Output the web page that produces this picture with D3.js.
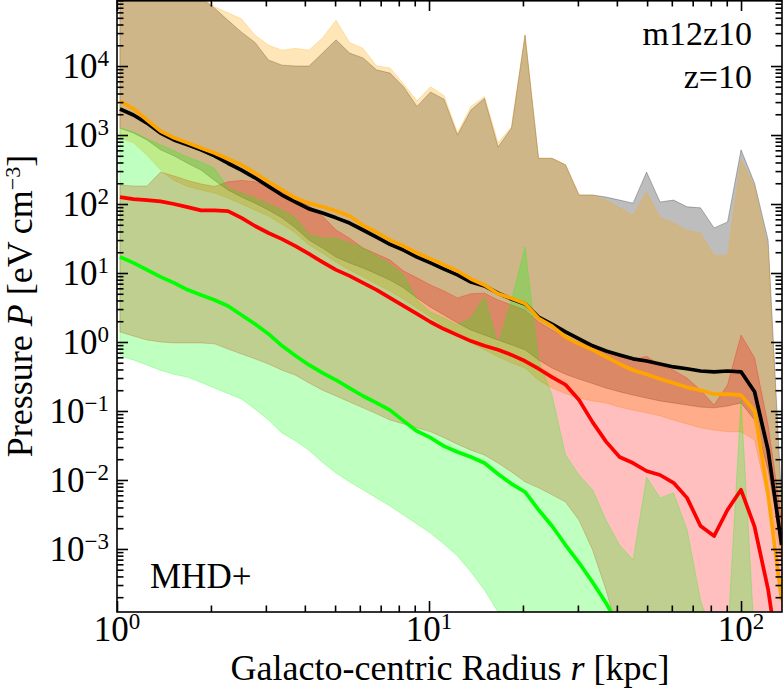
<!DOCTYPE html>
<html><head><meta charset="utf-8">
<script src="https://cdn.jsdelivr.net/npm/d3@7"></script>
<style>body{margin:0;background:#fff}svg{display:block}</style>
</head><body>
<svg id="c" width="784" height="694"></svg>
<script>
// Galacto-centric radius bins [kpc]
const radii = [1.022,1.129,1.248,1.379,1.523,1.683,1.859,2.054,2.269,2.506,2.769,3.059,3.380,3.734,4.125,4.557,5.035,5.563,6.145,6.789,7.499,8.285,9.153,10.11,11.17,12.34,13.63,15.06,16.64,18.38,20.31,22.44,24.79,27.39,30.26,33.43,36.93,40.80,45.08,49.80,55.02,60.78,67.14,74.18,81.95,90.53,100.0,110.5,122.1,134.9];

// median profiles [eV cm^-3]
const totalMedian = [2380,1950,1490,1070,850,720,610,500,390,310,240,180,135,107,85,74,63,53,42,33,26,21.5,17,14,11.4,9.4,7.4,6.5,5.1,4.2,3.56,2.3,1.82,1.40,1.11,0.88,0.74,0.65,0.57,0.53,0.48,0.435,0.41,0.38,0.37,0.38,0.37,0.19,0.027,0.00114];
const orangeMedian = [3100,2400,1650,1140,910,770,650,550,450,370,280,210,160,122,103,91,79,67,49,39,30,24.6,19.5,16,13.1,10.7,8.2,6.7,5.0,4.3,3.6,2.2,1.7,1.18,0.94,0.77,0.61,0.48,0.39,0.34,0.29,0.255,0.22,0.20,0.176,0.176,0.17,0.10,0.0061,0.00018];
const redMedian = [126,118,114,109,100,90,81,81,79,63,48,38,31,24.6,18.9,14.4,11.1,9.1,7.2,5.7,4.35,3.33,2.55,1.95,1.54,1.26,1.03,0.88,0.77,0.65,0.53,0.41,0.31,0.24,0.144,0.069,0.036,0.0215,0.0176,0.0135,0.0118,0.0091,0.0055,0.00215,0.00154,0.0037,0.0072,0.0021,0.00026,0.0000126];
const greenMedian = [17.1,14.0,11.1,8.8,7.2,5.7,4.8,4.06,3.33,2.46,1.82,1.31,0.88,0.63,0.465,0.356,0.281,0.215,0.165,0.131,0.103,0.072,0.051,0.041,0.031,0.0255,0.0215,0.0176,0.0122,0.0088,0.0067,0.0037,0.00215,0.00114,0.00063,0.00033,0.000165,0.000072,null,null,null,null,null,null,null,null,null,null,null,null];

// percentile bands (upper / lower)
const totalHi = [3.4e5,2.7e5,2.2e5,1.76e5,1.44e5,1.18e5,9.7e4,6.9e4,4.6e4,3.1e4,2.2e4,1.22e4,1.03e4,1.0e4,1.0e4,1.54e4,2.4e4,1.54e4,1.31e4,8800,7900,5000,2600,4200,3300,1000,2300,3400,670,1260,2.8e4,460,460,370,135,135,126,114,103,290,107,114,91,88,45,55,610,200,30,0.0051];
const totalLo = [1260,1070,850,610,500,390,310,220,160,126,103,82,63,45,30,23,17,14,11.8,9.7,7.9,6.1,4.35,3.2,2.46,1.89,1.49,1.26,1.07,0.91,0.77,0.55,0.42,0.34,0.29,0.25,0.215,0.19,0.17,0.154,0.14,0.131,0.122,0.114,0.111,0.118,0.131,0.074,0.014,0.00114];
const orangeHi = [5.7e5,4.5e5,3.4e5,2.7e5,2.15e5,1.5e5,1.03e5,7.2e4,5.9e4,4.8e4,2.8e4,2.0e4,1.7e4,1.8e4,1.7e4,2.55e4,4.6e4,2.2e4,1.8e4,1.0e4,9400,5500,3100,5000,3700,1070,2600,3600,770,1310,2.8e4,460,460,370,135,135,114,88,69,149,63,53,41,38,18,18,435,176,21.5,0.0026];
const orangeLo = [910,770,510,310,220,180,160,144,122,100,82,67,51,38,25.5,19.5,14.4,11.1,8.8,6.9,5.5,4.2,3.1,2.3,1.7,1.26,0.97,0.77,0.61,0.50,0.42,0.28,0.215,0.18,0.154,0.14,0.131,0.114,0.103,0.094,0.085,0.074,0.065,0.057,0.053,0.050,0.050,0.038,0.0051,0.00069];
const redHi = [189,182,182,290,255,220,195,180,210,220,210,180,149,118,94,67,42,32,23,18.9,15.4,10.7,8.5,6.7,5.5,4.35,5.0,5.1,4.06,3.44,2.9,1.95,1.49,1.18,1.0,0.85,0.72,0.62,0.55,0.62,0.465,0.39,0.30,0.20,0.122,0.24,1.26,0.59,0.063,0.0026];
const redLo = [1.40,1.22,1.07,1.0,0.97,0.97,0.97,0.94,0.79,0.67,0.57,0.48,0.39,0.33,0.255,0.20,0.165,0.135,0.111,0.091,0.074,0.065,0.057,0.050,0.041,0.033,0.027,0.023,0.0176,0.0131,0.0094,0.0077,0.0061,0.0048,0.0026,0.00097,0.000255,0.000048,2e-5,2e-5,2e-5,2e-5,2e-5,2e-5,2e-5,2e-5,2e-5,2e-5,2e-5,2e-5];
const greenHi = [1260,1110,880,720,590,480,406,330,170,144,122,100,82,63,36,32,32,27,23,17.6,13.5,9.4,4.06,2.72,2.23,1.76,2.23,4.5,0.91,4.06,23.8,0.55,0.17,0.023,0.0118,0.0072,0.0026,0.00114,0.00069,0.011,0.0055,0.0065,0.0019,0.00018,0.000048,0.000048,0.144,0.000048,0.0000065,0.0000065];
const greenLo = [0.63,0.55,0.465,0.39,0.34,0.31,0.26,0.215,0.18,0.149,0.107,0.074,0.048,0.037,0.027,0.018,0.0126,0.0094,0.0072,0.0055,0.0042,0.0031,0.0023,0.0017,0.00118,0.00079,0.000465,0.000255,0.000122,0.000048,4e-6,4e-6,4e-6,4e-6,4e-6,4e-6,4e-6,4e-6,4e-6,4e-6,4e-6,4e-6,4e-6,4e-6,4e-6,4e-6,4e-6,4e-6,4e-6,4e-6];

const xMajor = [1,10,100];
const yMajorExp = [-3,-2,-1,0,1,2,3,4];

const FONT = "'Liberation Serif', 'Times New Roman', serif";
const L = 117, R = 782, T = 0, B = 612;
const svg = d3.select('#c');
const x = d3.scaleLog().domain([1, 135.3]).range([L, R]);
const y = d3.scaleLog().domain([1.22e-4, 9.06e4]).range([B, T]);

svg.append('defs').append('clipPath').attr('id','pc')
  .append('rect').attr('x',L).attr('y',T).attr('width',R-L).attr('height',B-T);
const plot = svg.append('g').attr('clip-path','url(#pc)');

const bands = [
  {lo: totalLo, hi: totalHi, c: '#000000', a: 0.26},
  {lo: orangeLo, hi: orangeHi, c: '#ffa500', a: 0.28},
  {lo: redLo, hi: redHi, c: '#ff0000', a: 0.25},
  {lo: greenLo, hi: greenHi, c: '#00ff00', a: 0.25}
];
bands.forEach(b => {
  const ar = d3.area()
    .x((d,i) => x(radii[i]))
    .y0((d,i) => y(b.lo[i]))
    .y1((d,i) => y(b.hi[i]));
  plot.append('path').datum(radii).attr('d', ar)
    .attr('fill', b.c).attr('fill-opacity', b.a)
    .attr('stroke', b.c).attr('stroke-opacity', b.a).attr('stroke-width', 1);
});

const lines = [
  {v: totalMedian, c: '#000000'},
  {v: orangeMedian, c: '#ffa500'},
  {v: redMedian, c: '#ff0000'},
  {v: greenMedian, c: '#00ff00'}
];
lines.forEach(l => {
  const ln = d3.line()
    .defined((d,i) => l.v[i] != null)
    .x((d,i) => x(radii[i]))
    .y((d,i) => y(l.v[i]));
  plot.append('path').datum(radii).attr('d', ln)
    .attr('fill','none').attr('stroke', l.c).attr('stroke-width', 3.7)
    .attr('stroke-linejoin','round');
});

// axes (inward ticks on all four sides)
const xMinor = [];
[1,10].forEach(d => { for (let m=2;m<=9;m++) if (m*d < 135.3) xMinor.push(m*d); });
const yMinor = [];
for (let k=-4;k<=4;k++) for (let m=2;m<=9;m++) { const v=m*Math.pow(10,k); if (v>1.22e-4 && v<9.06e4) yMinor.push(v); }
const yMajor = yMajorExp.map(k => Math.pow(10,k));

function ax(gen, tr, vals, size) {
  const g = svg.append('g').attr('transform', tr)
    .call(gen.tickValues(vals).tickSize(-size).tickSizeOuter(0).tickFormat(''));
  g.select('.domain').remove();
  g.selectAll('line').attr('stroke','#000').attr('stroke-width',1.6);
}
ax(d3.axisBottom(x), `translate(0,${B})`, xMajor, 11);
ax(d3.axisBottom(x), `translate(0,${B})`, xMinor, 6.5);
ax(d3.axisTop(x), `translate(0,${T})`, xMajor, 11);
ax(d3.axisTop(x), `translate(0,${T})`, xMinor, 6.5);
ax(d3.axisLeft(y), `translate(${L},0)`, yMajor, 11);
ax(d3.axisLeft(y), `translate(${L},0)`, yMinor, 6.5);
ax(d3.axisRight(y), `translate(${R},0)`, yMajor, 11);
ax(d3.axisRight(y), `translate(${R},0)`, yMinor, 6.5);

svg.append('rect').attr('x',L).attr('y',T+0.8).attr('width',R-L).attr('height',B-T-0.8)
  .attr('fill','none').attr('stroke','#000').attr('stroke-width',1.6);

// tick labels
function pow10(t, k) {
  t.append('tspan').text('10');
  t.append('tspan').attr('dy',-12).attr('font-size',23).text(k<0 ? '\u2212'+(-k) : String(k));
}
xMajor.forEach((v,i) => {
  const t = svg.append('text').attr('x', x(v)).attr('y', 641).attr('text-anchor','middle')
    .attr('font-family',FONT).attr('font-size',35);
  pow10(t, i);
});
yMajorExp.forEach(k => {
  const t = svg.append('text').attr('x', 109).attr('y', y(Math.pow(10,k)) + 12).attr('text-anchor','end')
    .attr('font-family',FONT).attr('font-size',35);
  pow10(t, k);
});

// axis labels
const xl = svg.append('text').attr('x',450).attr('y',680).attr('text-anchor','middle')
  .attr('font-family',FONT).attr('font-size',36);
xl.append('tspan').text('Galacto-centric Radius ');
xl.append('tspan').attr('font-style','italic').text('r');
xl.append('tspan').text(' [kpc]');

const yl = svg.append('text').attr('transform','translate(32,306) rotate(-90)').attr('text-anchor','middle')
  .attr('font-family',FONT).attr('font-size',36);
yl.append('tspan').text('Pressure ');
yl.append('tspan').attr('font-style','italic').text('P');
yl.append('tspan').text(' [eV\u2009cm');
yl.append('tspan').attr('dy',-12).attr('font-size',22).text('\u22123');
yl.append('tspan').attr('dy',12).text(']');

// annotations
svg.append('text').attr('x',752).attr('y',45).attr('text-anchor','end')
  .attr('font-family',FONT).attr('font-size',34).text('m12z10');
svg.append('text').attr('x',752).attr('y',88).attr('text-anchor','end')
  .attr('font-family',FONT).attr('font-size',34).text('z=10');
svg.append('text').attr('x',150).attr('y',588).attr('text-anchor','start')
  .attr('font-family',FONT).attr('font-size',35).text('MHD+');
</script>
</body></html>
